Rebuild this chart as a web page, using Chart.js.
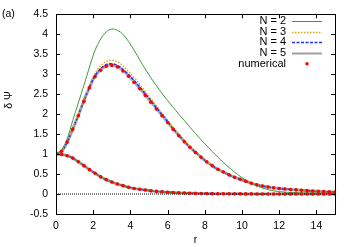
<!DOCTYPE html>
<html>
<head>
<meta charset="utf-8">
<script src="https://cdn.jsdelivr.net/npm/chart.js@4"></script>
<style>
  html, body { margin: 0; padding: 0; background: #fff; }
  #wrap { width: 353px; height: 247px; }
</style>
</head>
<body>
<div id="wrap"><canvas id="chart" width="353" height="247"></canvas></div>
<script>
// r grid of the numerical solution
var rValues = [0, 0.3, 0.6, 0.9, 1.2, 1.5, 1.8, 2.1, 2.4, 2.7, 3.0, 3.3, 3.6, 3.9, 4.2, 4.5, 4.8, 5.1, 5.4, 5.7,
  6.0, 6.3, 6.6, 6.9, 7.2, 7.5, 7.8, 8.1, 8.4, 8.7, 9.0, 9.3, 9.6, 9.9, 10.2, 10.5, 10.8, 11.1, 11.4, 11.7,
  12.0, 12.3, 12.6, 12.9, 13.2, 13.5, 13.8, 14.1, 14.4, 14.7, 15.0];

// upper branch
var numUpper = [1.0, 1.07, 1.3, 1.62, 1.96, 2.32, 2.66, 2.94, 3.1, 3.2, 3.22, 3.18, 3.08, 2.95, 2.8, 2.64, 2.47, 2.3, 2.13, 1.96,
  1.79, 1.62, 1.46, 1.31, 1.17, 1.04, 0.92, 0.81, 0.71, 0.62, 0.55, 0.48, 0.42, 0.37, 0.32, 0.27, 0.23, 0.2, 0.175, 0.155,
  0.14, 0.125, 0.115, 0.105, 0.095, 0.085, 0.075, 0.068, 0.06, 0.053, 0.047];
var n2Upper = [1.0, 1.1, 1.38, 1.84, 2.28, 2.72, 3.18, 3.6, 3.88, 4.06, 4.13, 4.1, 4.0, 3.82, 3.6, 3.36, 3.13, 2.91, 2.71, 2.52,
  2.34, 2.17, 2.0, 1.84, 1.675, 1.515, 1.36, 1.21, 1.065, 0.925, 0.79, 0.665, 0.55, 0.445, 0.35, 0.27, 0.205, 0.15, 0.11, 0.08,
  0.06, 0.048, 0.04, 0.034, 0.03, 0.028, 0.026, 0.025, 0.024, 0.023, 0.022];
var n3Upper = [1.0, 1.07, 1.31, 1.64, 1.99, 2.37, 2.73, 3.03, 3.21, 3.32, 3.35, 3.31, 3.21, 3.07, 2.92, 2.75, 2.57, 2.39, 2.21, 2.03,
  1.85, 1.67, 1.5, 1.34, 1.2, 1.06, 0.94, 0.82, 0.72, 0.63, 0.55, 0.48, 0.42, 0.37, 0.32, 0.27, 0.23, 0.2, 0.175, 0.155,
  0.14, 0.125, 0.115, 0.105, 0.095, 0.085, 0.075, 0.068, 0.06, 0.053, 0.047];
var n4Upper = [1.0, 1.07, 1.3, 1.63, 1.97, 2.34, 2.68, 2.97, 3.14, 3.24, 3.26, 3.22, 3.12, 2.99, 2.84, 2.68, 2.51, 2.34, 2.16, 1.99,
  1.82, 1.64, 1.48, 1.32, 1.18, 1.05, 0.93, 0.81, 0.71, 0.62, 0.55, 0.48, 0.42, 0.37, 0.32, 0.27, 0.23, 0.2, 0.175, 0.155,
  0.14, 0.125, 0.115, 0.105, 0.095, 0.085, 0.075, 0.068, 0.06, 0.053, 0.047];
var n5Upper = [1.0, 1.07, 1.3, 1.62, 1.97, 2.33, 2.67, 2.95, 3.11, 3.21, 3.23, 3.19, 3.09, 2.96, 2.81, 2.65, 2.48, 2.31, 2.14, 1.97,
  1.8, 1.63, 1.47, 1.31, 1.17, 1.04, 0.92, 0.81, 0.71, 0.62, 0.55, 0.48, 0.42, 0.37, 0.32, 0.27, 0.23, 0.2, 0.175, 0.155,
  0.14, 0.125, 0.115, 0.105, 0.095, 0.085, 0.075, 0.068, 0.06, 0.053, 0.047];

// lower branch (all N curves sit on the numerical one)
var numLower = [1.0, 0.99, 0.96, 0.9, 0.81, 0.71, 0.61, 0.52, 0.43, 0.36, 0.3, 0.25, 0.21, 0.17, 0.14, 0.12, 0.1, 0.08, 0.066, 0.055,
  0.045, 0.037, 0.03, 0.025, 0.02, 0.016, 0.013, 0.011, 0.009, 0.007, 0.006, 0.005, 0.004, 0.004, 0.003, 0.003, 0.002, 0.002, 0.002, 0.001,
  0.001, 0.001, 0.001, 0, 0, 0, 0, 0, 0, 0, 0];
var fitLower = numLower;

var zeroLine = [0, 0];
var zeroR = [0, 15];

var xTicks = [0, 2, 4, 6, 8, 10, 12, 14];
var yTicks = [-0.5, 0, 0.5, 1, 1.5, 2, 2.5, 3, 3.5, 4, 4.5];

function pts(xs, ys) {
  return ys.map(function (y, i) { return { x: xs[i], y: y }; });
}

var styles = {
  n2: { color: '#3f9a3f', width: 1, dash: [] },
  n3: { color: '#d6a020', width: 1.3, dash: [1.5, 1.5] },
  n4: { color: '#1f2fff', width: 1.6, dash: [3, 1.5] },
  n5: { color: 'rgba(150,150,150,0.75)', width: 3, dash: [] }
};

function lineSet(label, data, st) {
  return {
    label: label, data: data, borderColor: st.color, borderWidth: st.width,
    borderDash: st.dash, pointRadius: 0, fill: false, tension: 0.35
  };
}

var FONT = '"Liberation Sans", Arial, sans-serif';

var datasets = [
  { label: 'numerical', data: pts(rValues, numUpper), showLine: false, pointRadius: 1.8,
    pointBackgroundColor: '#ff0000', pointBorderWidth: 0, pointStyle: 'circle' },
  { label: 'numerical-low', data: pts(rValues, numLower), showLine: false, pointRadius: 1.8,
    pointBackgroundColor: '#ff0000', pointBorderWidth: 0, pointStyle: 'circle' },
  { label: 'zero', data: pts(zeroR, zeroLine), borderColor: '#000', borderWidth: 1,
    borderDash: [1, 1], pointRadius: 0 },
  lineSet('N = 2', pts(rValues, n2Upper), styles.n2),
  lineSet('N = 2 low', pts(rValues, fitLower), styles.n2),
  lineSet('N = 3', pts(rValues, n3Upper), styles.n3),
  lineSet('N = 3 low', pts(rValues, fitLower), styles.n3),
  lineSet('N = 4', pts(rValues, n4Upper), styles.n4),
  lineSet('N = 4 low', pts(rValues, fitLower), styles.n4),
  lineSet('N = 5', pts(rValues, n5Upper), styles.n5),
  lineSet('N = 5 low', pts(rValues, fitLower), styles.n5)
];

// frame, inward ticks, axis titles, panel label and key
var decor = {
  id: 'decor',
  afterDraw: function (chart) {
    var ctx = chart.ctx, a = chart.chartArea;
    var xs = chart.scales.x, ys = chart.scales.y;
    ctx.save();
    ctx.strokeStyle = '#000';
    ctx.lineWidth = 1;
    ctx.beginPath();
    xTicks.forEach(function (v) {
      var px = Math.round(xs.getPixelForValue(v)) + 0.5;
      ctx.moveTo(px, a.bottom); ctx.lineTo(px, a.bottom - 4);
      ctx.moveTo(px, a.top); ctx.lineTo(px, a.top + 4);
    });
    yTicks.forEach(function (v) {
      var py = Math.round(ys.getPixelForValue(v)) + 0.5;
      ctx.moveTo(a.left, py); ctx.lineTo(a.left + 4, py);
      ctx.moveTo(a.right, py); ctx.lineTo(a.right - 4, py);
    });
    ctx.stroke();
    ctx.strokeRect(Math.round(a.left) + 0.5, Math.round(a.top) + 0.5,
      Math.round(a.right - a.left), Math.round(a.bottom - a.top));

    ctx.fillStyle = '#000';
    ctx.font = '10.5px ' + FONT;
    ctx.textAlign = 'left';
    ctx.textBaseline = 'middle';
    ctx.fillText('(a)', 2, 14);
    ctx.textAlign = 'center';
    ctx.fillText('r', (a.left + a.right) / 2, 240);
    ctx.save();
    ctx.translate(9, 100);
    ctx.rotate(-Math.PI / 2);
    ctx.fillText('δ Ψ', 0, 0);
    ctx.restore();

    // key
    var keys = [
      { label: 'N = 2', st: styles.n2 },
      { label: 'N = 3', st: styles.n3 },
      { label: 'N = 4', st: styles.n4 },
      { label: 'N = 5', st: { color: '#a0a0a0', width: 2, dash: [] } },
      { label: 'numerical', st: null }
    ];
    ctx.font = '11px ' + FONT;
    ctx.textAlign = 'right';
    keys.forEach(function (k, i) {
      var y = 21 + i * 10.7;
      ctx.fillStyle = '#000';
      ctx.fillText(k.label, 286, y);
      if (k.st) {
        ctx.save();
        ctx.strokeStyle = k.st.color;
        ctx.lineWidth = k.st.width;
        ctx.setLineDash(k.st.dash);
        ctx.beginPath();
        ctx.moveTo(292, Math.round(y) + 0.5);
        ctx.lineTo(322, Math.round(y) + 0.5);
        ctx.stroke();
        ctx.restore();
      } else {
        ctx.fillStyle = '#ff0000';
        ctx.beginPath();
        ctx.arc(307, y, 1.7, 0, Math.PI * 2);
        ctx.fill();
      }
    });
    ctx.restore();
  }
};

function plainLabel(v) { return String(v); }

new Chart(document.getElementById('chart'), {
  type: 'line',
  data: { datasets: datasets },
  options: {
    responsive: false,
    animation: false,
    devicePixelRatio: 1,
    layout: { padding: { top: 14, right: 18, left: 0, bottom: 0 } },
    plugins: { legend: { display: false }, tooltip: { enabled: false } },
    scales: {
      x: {
        type: 'linear', min: 0, max: 15,
        afterFit: function (s) { s.height = 33; },
        afterBuildTicks: function (s) { s.ticks = xTicks.map(function (v) { return { value: v }; }); },
        grid: { display: false, drawTicks: false },
        border: { display: false },
        ticks: { color: '#000', padding: 6, font: { family: FONT, size: 10.5 }, maxRotation: 0, callback: plainLabel }
      },
      y: {
        type: 'linear', min: -0.5, max: 4.5,
        afterFit: function (s) { s.width = 56; },
        afterBuildTicks: function (s) { s.ticks = yTicks.map(function (v) { return { value: v }; }); },
        grid: { display: false, drawTicks: false },
        border: { display: false },
        ticks: { color: '#000', padding: 8, font: { family: FONT, size: 10.5 }, callback: plainLabel }
      }
    }
  },
  plugins: [decor]
});
</script>
</body>
</html>
